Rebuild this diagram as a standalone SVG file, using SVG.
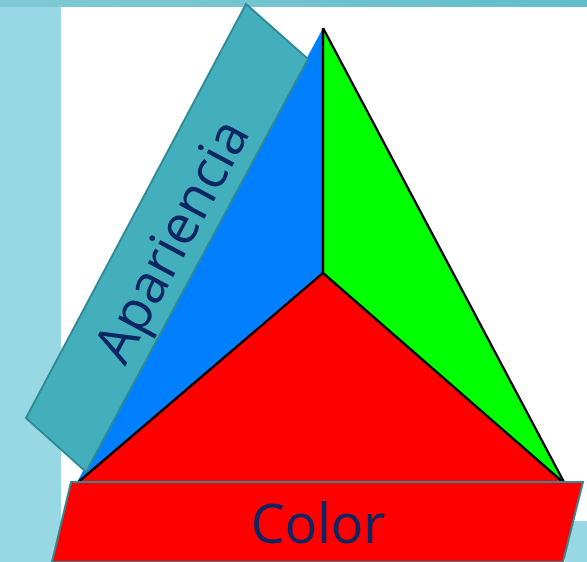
<svg xmlns="http://www.w3.org/2000/svg" width="587" height="562" viewBox="0 0 587 562">
<defs>
<linearGradient id="topg" x1="0" y1="0" x2="1" y2="0">
<stop offset="0" stop-color="#80cad4"/>
<stop offset="1" stop-color="#62bdcb"/>
</linearGradient>
<filter id="soft" x="-5%" y="-5%" width="110%" height="110%"><feGaussianBlur stdDeviation="0.7"/></filter>
</defs>
<style>
.band{stroke:#2f8a93;stroke-width:2;stroke-linejoin:miter}
.lbl{font-family:"Open Sans","Noto Sans",sans-serif;fill:#0c2563;font-size:54px}
.edge{fill:none;stroke:#000000;stroke-width:2.4;filter:url(#soft)}
</style>
<rect x="0" y="0" width="587" height="562" fill="#ffffff"/>
<rect x="0" y="0" width="587" height="7" fill="url(#topg)"/>
<rect x="0" y="7" width="61" height="555" fill="#98d8e4"/>
<rect x="565" y="521" width="22" height="41" fill="#98d8e4"/>
<g id="triangle">
<polygon points="323,28 323,273 76,484" fill="#0080ff"/>
<polygon points="323,28 323,273 565,484" fill="#00ff00"/>
<polygon points="323,273 76,484 565,484" fill="#ff0000"/>
<polyline class="edge" points="323,28 323,273 76,484"/>
<polyline class="edge" points="323,28 565,484"/>
<line class="edge" x1="323" y1="273" x2="565" y2="484"/>
</g>
<g id="apariencia">
<polygon class="band" points="246,4 308,59 86,472 26,418" fill="#43afbd"/>
<text class="lbl" x="0" y="0" text-anchor="middle" transform="translate(172,241) rotate(-61.8)" dy="18">Apariencia</text>
</g>
<g id="color">
<polygon class="band" points="71,482 583,482 563,562 52,562" fill="#ff0000"/>
<text class="lbl" x="318" y="543" text-anchor="middle">Color</text>
</g>
</svg>
